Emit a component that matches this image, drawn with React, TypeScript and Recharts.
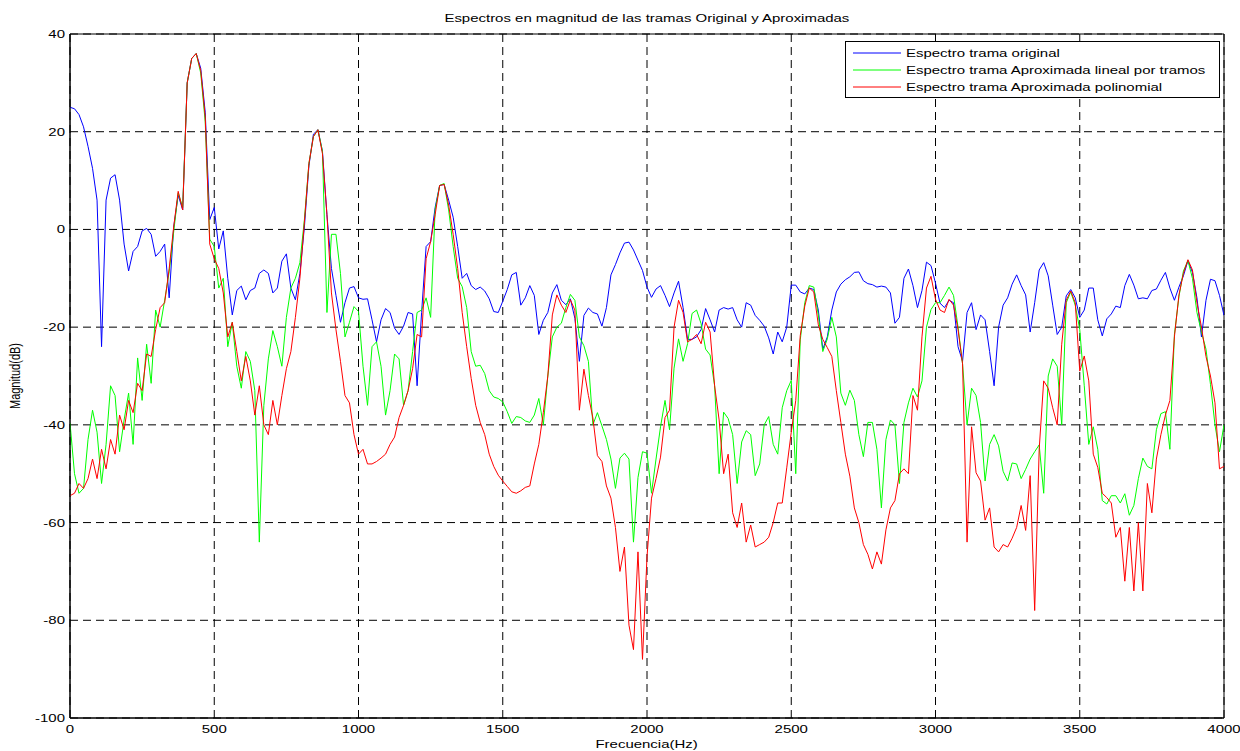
import {
  CartesianGrid,
  Line,
  LineChart,
  ReferenceArea,
  XAxis,
  YAxis,
} from "recharts";

// FFT bins: 257 points from 0 to 4000 Hz
const FREQ_STEP = 4000 / 256;

// Espectro trama original (dB)
const original = [
  25, 24.7, 23.5, 21, 17, 12.5, 6, -24, 6, 10.5, 11.2, 6, -3, -8.5, -4.5, -3.5, -0.3, 0.2, -1, -5.5, -4.5, -3, -14, 0.5, 7, 4, 30, 35, 36, 33, 24, 2,
  4.5, -4, -0.3, -10, -17.5, -12.5, -11.6, -14.4, -12.5, -12, -9, -8.3, -9, -13, -12, -6.5, -5, -12, -14.4, -9, 0.5, 13, 19.5, 20.4, 16, 3, -8, -13.5, -19, -15, -12, -11.7,
  -14, -14.3, -14.2, -18.5, -23, -18.5, -16.2, -17, -20.2, -21.5, -19.8, -17, -17.3, -32, -17, -3.5, -2.5, 4.5, 9, 9.2, 6, 2.5, -3.5, -10, -9, -11.5, -12.3, -11.8, -12.6, -14.2, -16.8, -17,
  -14.7, -12.3, -9.3, -8.8, -15.5, -14, -11.5, -13.5, -21.5, -18.6, -17, -13, -11.3, -14.5, -15.4, -14.2, -18.2, -27, -17.6, -16.1, -17, -17.3, -19.8, -16, -9.3, -7.2, -4.8, -2.8, -2.6, -4.2, -6.3, -8.4,
  -11.8, -13.9, -12.2, -11.5, -13.5, -15.8, -13, -10.6, -16, -22.5, -22.5, -22, -20.5, -16.2, -18.5, -21, -16.5, -16, -16.3, -16, -18.5, -20, -15, -15.5, -17.6, -18.6, -19.8, -22.2, -25.5, -21, -23, -20,
  -11.4, -11.4, -12.8, -13.2, -12, -12.3, -16.5, -24.5, -22, -16.5, -12.8, -11.2, -10.3, -9.7, -8.8, -8.7, -10.5, -11.1, -11.3, -11.8, -11.6, -11.8, -13, -19.2, -18, -10, -8.1, -11.5, -16, -12.5, -6.7, -7.4,
  -11, -15.1, -16, -14.5, -15, -24, -27, -17, -15, -20.5, -17.5, -18.5, -25, -32, -20, -15.5, -14, -11.2, -9.3, -11.5, -13.4, -21, -15, -8.3, -6.8, -9.5, -15.5, -21.5, -20, -13.6, -12.3, -14,
  -18, -16.5, -12, -12, -18.5, -21.8, -18.3, -17.3, -15.7, -16, -11.5, -9.2, -11.4, -14.2, -14, -14.2, -12.5, -12.2, -10.4, -8.8, -12, -14.5, -11.8, -9.5, -6.4, -8.8, -14, -22, -14.5, -10.2, -10.5, -13.5, -17.6,
];

// Espectro trama Aproximada lineal por tramos (dB)
const lineal = [
  -39.6, -50, -54, -53, -43, -37, -41.5, -52, -44, -32, -34, -45.5, -39, -33.5, -44, -26.3, -35, -23.5, -31.5, -16.5, -20, -14.5, -8.7, -0.5, 7.5, 4.5, 30, 35, 36, 32, 22, -2,
  -3.5, -12, -10, -24, -19, -28, -32.5, -25, -27, -33, -64, -36, -26.5, -20.7, -24, -28, -18, -12, -10, -6.8, 2, 13.5, 19, 20.4, 16, -17, -1, -1, -9, -22, -19, -15.8,
  -16.8, -28, -36, -24, -23, -28, -38, -33, -25.5, -26.5, -36, -33, -25, -17, -16.5, -14, -18, 4, 9, 9.4, 4, -3.5, -10, -11.7, -16, -25, -28, -27.8, -29.5, -33, -34.3, -34.6,
  -35.3, -37.3, -39.7, -38.3, -38.5, -39.2, -39.5, -38, -34.6, -40, -30, -22, -20, -19.2, -16, -13.3, -14.5, -22, -23.8, -27, -40, -37.5, -40.2, -43, -47, -53, -46.8, -45.8, -47, -64, -50.8, -45.5,
  -45.8, -54, -47, -40.4, -35, -41, -28.4, -22.4, -27, -23.4, -17.2, -16.5, -19.3, -24.5, -25.7, -32, -50, -37.4, -38.7, -42, -52, -43.5, -41.2, -42, -50.4, -48, -40, -38.3, -44, -46, -36.5, -33,
  -30.9, -50, -22.6, -15, -11.5, -11.8, -17.5, -25, -22.4, -18, -22, -33.5, -36, -32.9, -35, -42, -46.5, -39.5, -39.5, -45, -57, -43, -39, -40, -52, -39.5, -35.5, -32.5, -34.3, -31, -20, -16.4,
  -15, -15, -13.5, -11.8, -13.5, -20, -27.5, -40, -32.5, -34, -39.5, -51.5, -44, -42, -44.3, -49.5, -51.5, -47.8, -48, -51, -49.1, -47, -45.5, -44.1, -54, -30, -26.5, -28, -40, -15, -12.8, -15.5,
  -20.5, -32, -44, -40.4, -45, -55.5, -56.2, -54.5, -54.5, -56, -54.1, -58.5, -56.5, -51, -46.8, -48.5, -49, -41, -37.7, -37.3, -45, -21.5, -13.8, -8.5, -6.4, -10, -17, -21, -24.5, -31.7, -40, -45.5, -40,
];

// Espectro trama Aproximada polinomial (dB)
const polinomial = [
  -54.5, -54, -52, -53, -51, -47, -51, -45, -49, -43, -46, -38, -41, -35, -37.5, -31.5, -33, -25.5, -26, -20.5, -16, -15, -8, 0.5, 7.8, 4, 30, 35, 36, 32.5, 23, -3,
  -6, -8, -13, -22, -19, -25, -31, -26, -31, -38, -32, -40, -42, -35, -40, -34, -28.5, -25, -18, -10, 1.5, 13.5, 19, 20.4, 15.5, 3, -13, -20.5, -27, -34, -35.5, -42,
  -46, -45, -48, -48, -47.5, -46.8, -46, -44, -42.5, -38.5, -36, -33, -28.5, -21.5, -22, -6, -2.5, 3, 9, 9.2, 5, -1, -8, -17, -24, -30.5, -36, -39.5, -42, -46, -48.5, -50.3,
  -51.5, -52.6, -53.7, -54, -53.5, -52.8, -52.5, -48, -44, -37.5, -30, -17.5, -13.4, -15.5, -17, -14.4, -16.5, -37, -28.6, -34, -38.6, -46.3, -47.5, -52.5, -55, -61, -70, -65, -81, -86, -66, -88,
  -67, -55, -51, -46.6, -38.5, -37, -20, -14.5, -17, -23, -22.5, -21.5, -23.4, -19, -21, -32, -39, -50, -46, -58, -61, -56, -64, -60.5, -65, -64.5, -64, -63, -60, -56, -56, -48.8,
  -41.5, -35, -21.7, -15.7, -12, -12.8, -19.5, -22.5, -24.2, -26, -33, -39.5, -46, -50.5, -57, -60, -64.5, -66.5, -69.5, -66, -68.5, -61.5, -57, -55.5, -50, -49, -50, -34, -37, -22, -12, -9.6,
  -14.3, -16.5, -17, -14.3, -15.5, -20.5, -27.5, -64, -40.4, -49.8, -51.5, -59.5, -57, -65, -66, -64.5, -65, -63.2, -61, -56.5, -61.6, -50.4, -78, -45, -31, -32.5, -36.5, -40, -23.5, -14.5, -12.6, -15,
  -29, -25.9, -31, -46, -48.7, -54, -54.9, -56, -63, -61, -72, -61, -74, -60, -74, -52, -58, -47, -42, -38, -35, -22, -13.4, -9, -6.2, -8.3, -15, -20, -26, -30, -35.5, -49, -48.5,
];

const freqTicks = [0, 500, 1000, 1500, 2000, 2500, 3000, 3500, 4000];
const dbTicks = [-100, -80, -60, -40, -20, 0, 20, 40];

const series = [
  { key: "original", name: "Espectro trama original", color: "#0000ff" },
  { key: "lineal", name: "Espectro trama Aproximada lineal por tramos", color: "#00ff00" },
  { key: "polinomial", name: "Espectro trama Aproximada polinomial", color: "#ff0000" },
];

const FONT = '"Liberation Sans", Arial, Helvetica, sans-serif';
// the original figure was exported stretched sideways
const STRETCH = 1.36;

const data = original.map((v, i) => ({
  f: i * FREQ_STEP,
  original: v,
  lineal: lineal[i],
  polinomial: polinomial[i],
}));

function XTick({ x, y, payload }: any) {
  return (
    <g transform={`translate(${x},${y})`}>
      <text
        transform={`scale(${STRETCH},1)`}
        textAnchor="middle"
        dy="0.71em"
        fill="#000"
        fontSize={11}
        fontFamily={FONT}
      >
        {payload.value}
      </text>
    </g>
  );
}

function YTick({ x, y, payload }: any) {
  return (
    <g transform={`translate(${x},${y})`}>
      <text
        transform={`scale(${STRETCH},1)`}
        textAnchor="end"
        dy="0.36em"
        fill="#000"
        fontSize={11}
        fontFamily={FONT}
      >
        {payload.value}
      </text>
    </g>
  );
}

const stretched = {
  display: "inline-block",
  transform: `scaleX(${STRETCH})`,
  whiteSpace: "nowrap" as const,
};

function LegendBox() {
  return (
    <div
      style={{
        position: "absolute",
        left: 845,
        top: 41,
        width: 375,
        border: "1px solid #000",
        background: "#fff",
        padding: "2px 0 1px 7px",
        fontSize: 11,
        color: "#000",
        boxSizing: "border-box",
      }}
    >
      {series.map((s) => (
        <div key={s.key} style={{ display: "flex", alignItems: "center", height: 17.3 }}>
          <svg width={48} height={4} style={{ marginRight: 5, flex: "none" }}>
            <line x1={0} x2={48} y1={2} y2={2} stroke={s.color} strokeWidth={1} />
          </svg>
          <span style={{ ...stretched, transformOrigin: "left center" }}>{s.name}</span>
        </div>
      ))}
    </div>
  );
}

export default function App() {
  return (
    <div
      style={{
        position: "absolute",
        left: 0,
        top: 0,
        width: 1240,
        height: 751,
        background: "#fff",
        fontFamily: FONT,
      }}
    >
      <LineChart
        width={1240}
        height={751}
        data={data}
        margin={{ top: 34, right: 16, bottom: 0, left: 0 }}
      >
        <CartesianGrid stroke="#000" strokeDasharray="8 5" />
        <XAxis
          dataKey="f"
          type="number"
          domain={[0, 4000]}
          ticks={freqTicks}
          height={33}
          tickLine={false}
          tickSize={0}
          tickMargin={7}
          axisLine={{ stroke: "#000" }}
          tick={<XTick />}
          allowDataOverflow
        />
        <YAxis
          type="number"
          domain={[-100, 40]}
          ticks={dbTicks}
          width={70}
          tickLine={false}
          tickSize={0}
          tickMargin={5}
          axisLine={{ stroke: "#000" }}
          tick={<YTick />}
          allowDataOverflow
        />
        {/* inward tick marks on all four sides */}
        <XAxis
          xAxisId="tickBottom"
          dataKey="f"
          type="number"
          domain={[0, 4000]}
          ticks={freqTicks}
          mirror
          tick={false}
          axisLine={false}
          tickSize={5}
          tickLine={{ stroke: "#000" }}
        />
        <XAxis
          xAxisId="tickTop"
          orientation="top"
          dataKey="f"
          type="number"
          domain={[0, 4000]}
          ticks={freqTicks}
          mirror
          tick={false}
          axisLine={false}
          tickSize={5}
          tickLine={{ stroke: "#000" }}
        />
        <YAxis
          yAxisId="tickLeft"
          type="number"
          domain={[-100, 40]}
          ticks={dbTicks}
          mirror
          tick={false}
          axisLine={false}
          tickSize={5}
          tickLine={{ stroke: "#000" }}
        />
        <YAxis
          yAxisId="tickRight"
          orientation="right"
          type="number"
          domain={[-100, 40]}
          ticks={dbTicks}
          mirror
          tick={false}
          axisLine={false}
          tickSize={5}
          tickLine={{ stroke: "#000" }}
        />
        <ReferenceArea
          x1={0}
          x2={4000}
          y1={-100}
          y2={40}
          fill="none"
          stroke="#000"
          strokeWidth={1}
        />
        {series.map((s) => (
          <Line
            key={s.key}
            type="linear"
            dataKey={s.key}
            name={s.name}
            stroke={s.color}
            strokeWidth={1}
            dot={false}
            isAnimationActive={false}
          />
        ))}
      </LineChart>
      <div
        style={{
          position: "absolute",
          left: 70,
          width: 1154,
          top: 12,
          textAlign: "center",
          fontSize: 11,
          lineHeight: "13px",
        }}
      >
        <span style={stretched}>
          Espectros en magnitud de las tramas Original y Aproximadas
        </span>
      </div>
      <div
        style={{
          position: "absolute",
          left: 15,
          top: 376,
          transform: `translate(-50%, -50%) scaleX(${STRETCH}) rotate(-90deg)`,
          whiteSpace: "nowrap",
          fontSize: 11,
          lineHeight: "13px",
        }}
      >
        Magnitud(dB)
      </div>
      <div
        style={{
          position: "absolute",
          left: 70,
          width: 1154,
          top: 738,
          textAlign: "center",
          fontSize: 11,
          lineHeight: "13px",
        }}
      >
        <span style={stretched}>Frecuencia(Hz)</span>
      </div>
      <LegendBox />
    </div>
  );
}
